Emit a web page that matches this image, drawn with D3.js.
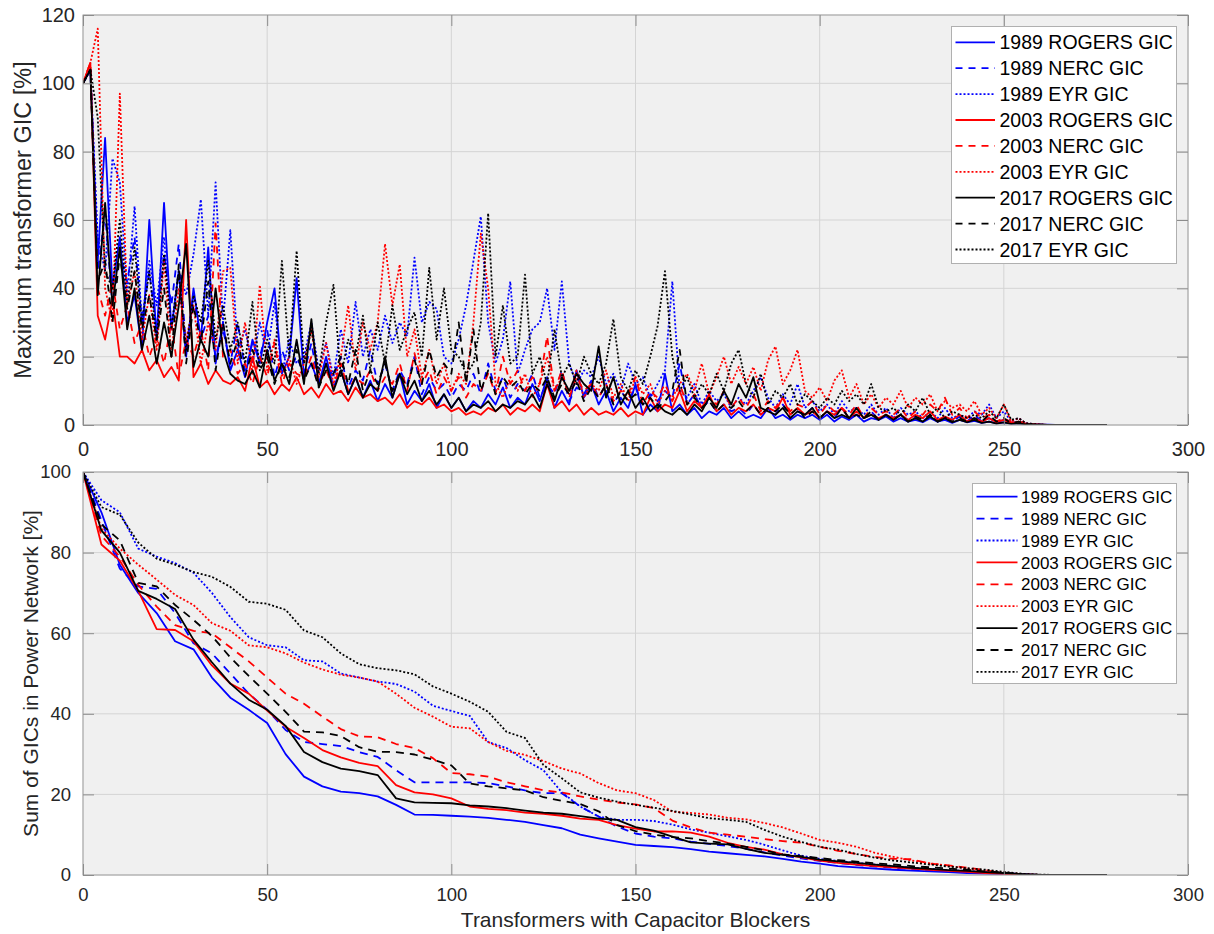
<!DOCTYPE html>
<html>
<head>
<meta charset="utf-8">
<script src="https://cdn.jsdelivr.net/npm/d3@7"></script>
<style>
  body { margin: 0; background: #ffffff; }
  svg { font-family: "Liberation Sans", Arial, sans-serif; }
</style>
</head>
<body>
<div id="container"></div>
<script>
let w = 1214;
let h = 934;

// ---- data ----
let seriesNames = ["1989 ROGERS GIC", "1989 NERC GIC", "1989 EYR GIC",
                   "2003 ROGERS GIC", "2003 NERC GIC", "2003 EYR GIC",
                   "2017 ROGERS GIC", "2017 NERC GIC", "2017 EYR GIC"];
let seriesColors = ["#0000ff", "#0000ff", "#0000ff",
                    "#ff0000", "#ff0000", "#ff0000",
                    "#000000", "#000000", "#000000"];
let seriesStyles = ["solid", "dashed", "dotted",
                    "solid", "dashed", "dotted",
                    "solid", "dashed", "dotted"];

// top panel: maximum transformer GIC [%], one value every 2 transformers (0..278)
let topX = d3.range(0, 279, 2);
let xTicks = [0, 50, 100, 150, 200, 250, 300];
let topYTicks = [0, 20, 40, 60, 80, 100, 120];
let sumYTicks = [0, 20, 40, 60, 80, 100];

let max1989Rogers = [
  100, 104, 48, 84, 40, 55, 30, 38, 22, 60,
  25, 65, 28, 45, 20, 40, 25, 52, 18, 30,
  16, 22, 14, 25, 18, 30, 40, 15, 20, 43,
  14, 18, 12, 20, 11, 16, 9, 14, 8, 13,
  7, 12, 8, 15, 6, 10, 7, 12, 5, 9,
  5, 8, 4, 7, 5, 9, 6, 11, 5, 8,
  6, 12, 7, 14, 5, 10, 6, 16, 8, 12,
  6, 10, 4, 8, 5, 12, 3, 6, 4, 15,
  4, 6, 3, 5, 2, 4, 3, 5, 2, 4,
  2, 3, 2, 5, 2, 3, 1.5, 3, 2, 3,
  1.5, 3, 1, 2.5, 1.5, 3, 1, 2, 1.5, 2.5,
  1, 2, 1, 1.5, 0.8, 2, 1, 1.5, 0.6, 1.5,
  0.8, 1.2, 0.6, 1, 0.5, 0.8, 0.4, 0.5, 0.3, 0.2,
  0.1, 0.1, 0, 0, 0, 0, 0, 0, 0, 0];
let max1989Nerc = [
  100, 104, 45, 62, 35, 50, 42, 55, 30, 45,
  28, 50, 35, 53, 22, 38, 25, 32, 20, 28,
  18, 30, 16, 24, 20, 28, 14, 22, 16, 20,
  15, 24, 12, 18, 14, 20, 11, 16, 13, 22,
  12, 18, 10, 16, 12, 20, 9, 14, 10, 12,
  8, 12, 10, 15, 9, 18, 10, 14, 8, 12,
  10, 15, 8, 12, 9, 16, 7, 11, 9, 13,
  8, 12, 6, 10, 7, 11, 6, 9, 7, 10,
  8, 18, 6, 9, 5, 7, 4, 6, 4, 5,
  3, 6, 3, 5, 3, 6, 2, 4, 3, 5,
  2, 4, 2, 5, 2, 3, 2, 4, 1.5, 3,
  1.5, 3, 1.5, 2.5, 1, 3, 1, 2, 1, 2.5,
  1, 3, 1, 2, 0.8, 1.5, 0.5, 1, 0.3, 0.2,
  0.1, 0, 0, 0, 0, 0, 0, 0, 0, 0];
let max1989Eyr = [
  100, 104, 55, 45, 78, 71, 38, 64, 30, 48,
  35, 55, 28, 45, 38, 50, 66, 32, 71, 30,
  57, 22, 28, 18, 30, 20, 36, 15, 25, 18,
  20, 30, 16, 24, 14, 28, 18, 36, 20, 28,
  22, 32, 24, 30, 26, 49, 30, 36, 34, 20,
  18, 25, 35, 48, 61, 30, 18, 25, 42, 15,
  22, 28, 30, 40, 22, 42, 18, 12, 16, 14,
  20, 12, 15, 10, 18, 12, 14, 8, 12, 16,
  42, 10, 8, 12, 6, 10, 7, 9, 5, 8,
  6, 10, 14, 8, 5, 9, 6, 12, 5, 7,
  4, 6, 3, 7, 4, 5, 3, 6, 3, 5,
  2, 5, 3, 4, 2, 4, 2, 5, 2, 3,
  2, 4, 3, 6, 2, 4, 1, 2, 0.5, 0.3,
  0.1, 0, 0, 0, 0, 0, 0, 0, 0, 0];
let max2003Rogers = [
  100, 106, 32, 25, 37, 20, 20, 18, 22, 16,
  19, 14, 17, 13, 60, 14, 18, 12, 16, 13,
  12, 14, 10, 20, 11, 13, 9, 12, 10, 14,
  9, 11, 8, 12, 9, 10, 7, 11, 8, 9,
  7, 8, 6, 9, 5, 7, 6, 8, 5, 6,
  4, 5, 3, 4, 3, 5, 4, 6, 3, 5,
  4, 6, 4, 12, 5, 7, 4, 6, 3, 5,
  3, 4, 3, 5, 2.5, 4, 3, 8, 4, 6,
  5, 10, 4, 7, 5, 9, 4, 6, 3, 5,
  4, 6, 3, 5, 4, 8, 3, 5, 3, 4,
  2, 4, 3, 5, 2, 4, 2, 3, 2, 3,
  2, 3, 1.5, 3, 2, 4, 1.5, 2.5, 1.5, 3,
  1, 2, 1, 2, 0.8, 1.5, 0.5, 1, 0.3, 0.2,
  0.1, 0, 0, 0, 0, 0, 0, 0, 0, 0];
let max2003Nerc = [
  100, 106, 40, 32, 42, 28, 35, 24, 30, 20,
  26, 18, 30, 14, 25, 20, 28, 16, 59, 20,
  22, 15, 18, 12, 20, 14, 24, 12, 18, 15,
  14, 20, 12, 16, 11, 18, 10, 14, 12, 16,
  10, 14, 12, 18, 10, 21, 12, 16, 9, 14,
  10, 14, 8, 12, 10, 15, 9, 20, 12, 16,
  10, 14, 12, 26, 10, 16, 8, 14, 10, 12,
  8, 12, 7, 10, 9, 14, 6, 10, 8, 12,
  7, 12, 6, 9, 5, 8, 6, 10, 5, 8,
  5, 9, 4, 7, 5, 8, 4, 6, 5, 7,
  3, 6, 4, 5, 3, 6, 2, 5, 3, 4,
  3, 5, 2, 4, 3, 6, 4, 8, 3, 5,
  2, 4, 2, 3, 1, 2, 0.8, 1, 0.4, 0.2,
  0.1, 0, 0, 0, 0, 0, 0, 0, 0, 0];
let max2003Eyr = [
  100, 106, 116, 40, 30, 97, 35, 45, 25, 38,
  22, 48, 20, 40, 25, 35, 18, 30, 22, 45,
  46, 18, 30, 15, 41, 16, 25, 14, 20, 12,
  18, 28, 14, 24, 12, 20, 35, 16, 30, 22,
  30, 53, 35, 47, 20, 28, 14, 22, 12, 18,
  10, 15, 12, 30, 56, 40, 12, 8, 14, 10,
  15, 8, 12, 20, 10, 14, 9, 16, 8, 12,
  10, 16, 8, 12, 7, 14, 9, 12, 6, 10,
  8, 12, 15, 10, 18, 9, 14, 20, 12, 17,
  12, 17, 10, 19, 23, 12, 16, 22, 10, 8,
  11, 7, 13, 16, 8, 12, 6, 9, 5, 8,
  6, 10, 5, 8, 6, 9, 4, 7, 5, 6,
  4, 7, 3, 5, 2, 6, 1, 2, 0.5, 0.3,
  0.1, 0, 0, 0, 0, 0, 0, 0, 0, 0];
let max2017Rogers = [
  100, 104, 38, 65, 35, 52, 28, 40, 22, 32,
  18, 30, 20, 35, 53, 17, 25, 20, 40, 22,
  15, 13, 12, 16, 11, 22, 13, 18, 12, 25,
  12, 31, 11, 18, 10, 16, 9, 14, 8, 12,
  10, 20, 8, 15, 9, 13, 7, 10, 6, 9,
  5, 8, 4, 6, 5, 7, 4, 6, 5, 7,
  6, 9, 5, 12, 7, 14, 10, 15, 12, 10,
  23, 8, 14, 6, 10, 5, 8, 4, 6, 4,
  3, 5, 3, 6, 4, 8, 5, 10, 6, 12,
  8, 14, 5, 4, 3, 5, 2, 4, 3, 5,
  2, 4, 2, 3, 2, 5, 2, 3, 1.5, 3,
  1.5, 3, 1, 2, 1, 2.5, 1, 2, 0.8, 1.5,
  0.8, 1.5, 0.6, 1, 0.4, 0.8, 0.3, 0.5, 0.2, 0.1,
  0.1, 0, 0, 0, 0, 0, 0, 0, 0, 0];
let max2017Nerc = [
  100, 104, 42, 48, 30, 50, 34, 45, 28, 38,
  25, 40, 20, 47, 18, 35, 24, 42, 16, 30,
  18, 25, 14, 22, 16, 20, 12, 18, 14, 22,
  13, 18, 11, 16, 15, 20, 12, 22, 10, 16,
  12, 18, 10, 15, 11, 19, 12, 22, 14, 18,
  15, 30, 12, 28, 10, 16, 9, 14, 11, 13,
  9, 12, 10, 14, 8, 12, 9, 13, 7, 11,
  8, 12, 6, 10, 7, 9, 6, 8, 5, 7,
  10, 22, 6, 8, 5, 7, 4, 6, 5, 7,
  4, 6, 3, 5, 4, 6, 3, 5, 2, 4,
  2, 4, 2, 5, 2, 3, 2, 4, 1.5, 3,
  1.5, 3, 1, 2.5, 1.5, 3, 1, 2, 1, 2,
  1, 2, 1, 3, 1, 2, 0.5, 1, 0.3, 0.2,
  0.1, 0, 0, 0, 0, 0, 0, 0, 0, 0];
let max2017Eyr = [
  100, 104, 90, 45, 40, 60, 35, 52, 30, 45,
  25, 50, 28, 45, 22, 38, 30, 48, 25, 35,
  22, 30, 18, 36, 16, 25, 18, 48, 20, 51,
  18, 28, 15, 30, 41, 14, 25, 20, 32, 16,
  30, 18, 35, 22, 28, 33, 20, 46, 25, 40,
  22, 20, 15, 18, 30, 62, 20, 35, 18, 20,
  44, 15, 20, 12, 28, 14, 18, 12, 20, 15,
  12, 18, 31, 14, 10, 16, 12, 20, 29, 45,
  20, 10, 14, 8, 12, 9, 15, 10, 18, 22,
  12, 8, 15, 6, 10, 8, 12, 6, 9, 7,
  5, 8, 6, 10, 7, 9, 6, 12, 5, 4,
  5, 3, 6, 4, 8, 3, 5, 2, 4, 3,
  2, 3, 2, 4, 2, 6, 1.5, 2, 0.5, 0.3,
  0.1, 0, 0, 0, 0, 0, 0, 0, 0, 0];

// bottom panel: sum of GICs in power network [%], every 5 transformers (0..275) plus 278
let sumX = d3.range(0, 276, 5).concat([278]);

let sum1989Rogers = [100, 90, 77, 70, 65, 58, 56, 49, 44, 41, 37.7, 30, 24.4, 22, 20.7, 20.3, 19.5, 17.4, 15, 14.9,
  14.7, 14.5, 14.2, 13.7, 13.2, 12.4, 11.6, 10, 9.1, 8.3, 7.5, 7.2, 6.9, 6.4, 5.8, 5.4, 5.0, 4.6, 4.0, 3.3,
  2.8, 2.2, 1.9, 1.6, 1.3, 1.1, 0.9, 0.7, 0.5, 0.35, 0.25, 0.1, 0, 0, 0, 0, 0];
let sum1989Nerc = [100, 88, 76, 71.6, 71, 65, 57.5, 55, 50, 45, 41, 36, 33, 32.5, 32, 30.5, 29.3, 26, 23, 23,
  23, 23, 22.8, 22, 21, 20.3, 20.3, 17, 14.5, 12, 10.3, 9.5, 9.1, 8.3, 7.7, 7.2, 6.5, 5.6, 4.8, 4.1,
  3.5, 3, 2.5, 2.1, 1.8, 1.5, 1.2, 1, 0.8, 0.6, 0.4, 0.2, 0, 0, 0, 0, 0];
let sum1989Eyr = [100, 93, 90, 81, 79, 77.4, 75, 70, 64, 59, 57, 56.5, 53.3, 53, 50, 49, 48, 47.4, 45.5, 42,
  40.7, 39.5, 33, 31.5, 28.5, 26, 20.5, 17, 14.5, 13.7, 13.7, 13.4, 12.5, 11.3, 10.5, 9.6, 8.7, 7.5, 6.1, 4.8,
  4, 3.5, 3, 2.6, 2.2, 1.8, 1.5, 1.2, 1, 0.7, 0.5, 0.2, 0, 0, 0, 0, 0];
let sum2003Rogers = [100, 82, 78, 70.5, 61, 60.8, 58, 52, 47.5, 45, 40.8, 36.8, 34, 31, 29.2, 27.8, 27, 22.3, 20.5, 20,
  19, 17, 16.4, 16.1, 15.5, 15.2, 14.7, 14, 13.7, 12.4, 11.5, 10.8, 10.8, 10.5, 9.5, 8, 7, 6.3, 5.1, 4.4,
  3.6, 3, 2.6, 2.2, 1.9, 1.6, 1.3, 1, 0.8, 0.5, 0.3, 0.1, 0, 0, 0, 0, 0];
let sum2003Nerc = [100, 84.2, 79, 72, 66.6, 62, 60.6, 60, 56.5, 53, 49, 45, 42.5, 39.3, 36.2, 34.4, 34.2, 32.5, 31.5, 29,
  25.3, 25, 24.4, 23, 22, 21, 20.5, 19.5, 18.7, 18, 17.5, 16.6, 13.5, 11.8, 10.5, 10, 9.5, 8.9, 8.4, 8,
  7, 6, 5.2, 4.5, 4, 3.9, 2.8, 2.4, 1.8, 1.2, 0.4, 0.1, 0, 0, 0, 0, 0];
let sum2003Eyr = [100, 86, 81, 77, 73.3, 69.5, 67, 62.5, 60.6, 57, 56.5, 55, 52.7, 51, 49.7, 49, 48, 45, 41.5, 39.3,
  36.8, 36.4, 33, 30.8, 29.8, 28.3, 26.4, 25.2, 22.8, 21, 20.3, 18.6, 15.7, 15.4, 15, 14.2, 13.8, 12.9, 11.8, 10.3,
  8.7, 8, 7, 5.5, 4.5, 3.6, 2.9, 2.3, 1.6, 1, 0.6, 0.2, 0, 0, 0, 0, 0];
let sum2017Rogers = [100, 85.5, 80, 70.5, 68.5, 66, 58.4, 52.8, 47.5, 43.5, 41, 37, 30.5, 28, 26.4, 25.8, 24.8, 19, 18, 17.9,
  17.8, 17.3, 17, 16.6, 16, 15.5, 15.2, 14.6, 14, 13.7, 11.9, 11, 9.5, 8.1, 7.8, 7.6, 6.5, 5.5, 5, 4.5,
  3.8, 3.4, 3, 2.6, 2.2, 1.8, 1.5, 1.2, 1, 0.7, 0.5, 0.2, 0.05, 0, 0, 0, 0];
let sum2017Nerc = [100, 87, 83, 72.5, 71.6, 67, 63.3, 59.3, 54, 49.4, 45, 40.5, 35.6, 35.4, 34.5, 31.7, 30.6, 30.5, 29.9, 28.6,
  27.2, 22.7, 22, 21.5, 21, 19.3, 18.4, 17.6, 15.8, 12.4, 10.9, 10, 9.4, 9.1, 8.4, 7.8, 7, 6.1, 5.1, 4.7,
  4.2, 3.7, 3.3, 2.9, 2.6, 2.2, 1.9, 1.6, 1.3, 0.9, 0.6, 0.2, 0, 0, 0, 0, 0];
let sum2017Eyr = [100, 91.3, 89.4, 82.5, 78.5, 77, 75.2, 74, 71.5, 67.8, 67.3, 65.8, 60.7, 59, 55, 52.3, 51.3, 50.8, 49.8, 46.8,
  45, 43, 40.5, 35.5, 34, 27.3, 24, 20.5, 19.2, 18.2, 17.4, 16.7, 15.9, 15, 14.1, 13.7, 13.2, 11.2, 9.5, 8.2,
  7, 6.3, 5.2, 4.3, 3.6, 3.1, 2.6, 2.1, 1.7, 1.3, 0.8, 0.3, 0.1, 0, 0, 0, 0];

let maxSeries = [max1989Rogers, max1989Nerc, max1989Eyr, max2003Rogers, max2003Nerc, max2003Eyr,
                 max2017Rogers, max2017Nerc, max2017Eyr];
let sumSeries = [sum1989Rogers, sum1989Nerc, sum1989Eyr, sum2003Rogers, sum2003Nerc, sum2003Eyr,
                 sum2017Rogers, sum2017Nerc, sum2017Eyr];

// put the svg onto the page:
let viz = d3.select("#container")
  .append("svg")
    .attr("width", w)
    .attr("height", h)
;

let gridColor = "#d4d4d4";
let boxColor = "#a3a3a3";
let textColor = "#262626";

function dashFor(style, big){
  if (style == "dashed") return big ? "7,6" : "8,6";
  if (style == "dotted") return "2,2";
  return null;
}

function drawPanel(cfg){
  let g = viz.append("g").classed(cfg.name, true);

  let xScale = d3.scaleLinear().domain([0, 300]).range([cfg.left, cfg.right]);
  let yScale = d3.scaleLinear().domain([0, cfg.yMax]).range([cfg.bottom, cfg.top]);

  g.append("rect")
    .attr("x", cfg.left)
    .attr("y", cfg.top)
    .attr("width", cfg.right - cfg.left)
    .attr("height", cfg.bottom - cfg.top)
    .attr("fill", "#f0f0f0")
  ;

  // grid
  g.selectAll(".vgrid").data(xTicks).enter()
    .append("line")
      .attr("x1", d => xScale(d)).attr("x2", d => xScale(d))
      .attr("y1", cfg.top).attr("y2", cfg.bottom)
      .attr("stroke", gridColor).attr("stroke-width", 1)
  ;
  g.selectAll(".hgrid").data(cfg.yTicks).enter()
    .append("line")
      .attr("x1", cfg.left).attr("x2", cfg.right)
      .attr("y1", d => yScale(d)).attr("y2", d => yScale(d))
      .attr("stroke", gridColor).attr("stroke-width", 1)
  ;

  // clip so lines stay inside the axes
  viz.append("clipPath").attr("id", "clip-" + cfg.name)
    .append("rect")
      .attr("x", cfg.left).attr("y", cfg.top)
      .attr("width", cfg.right - cfg.left).attr("height", cfg.bottom - cfg.top);

  let lineGroup = g.append("g").attr("clip-path", "url(#clip-" + cfg.name + ")");
  cfg.series.forEach(function(values, k){
    let line = d3.line()
      .x(function(d, i){ return xScale(cfg.xs[i]); })
      .y(function(d){ return yScale(d); });
    lineGroup.append("path")
      .datum(values)
      .attr("d", line)
      .attr("fill", "none")
      .attr("stroke", seriesColors[k])
      .attr("stroke-width", cfg.lineWidth)
      .attr("stroke-linejoin", "round")
      .attr("stroke-dasharray", dashFor(seriesStyles[k], cfg.big))
    ;
  });

  // box
  g.append("rect")
    .attr("x", cfg.left)
    .attr("y", cfg.top)
    .attr("width", cfg.right - cfg.left)
    .attr("height", cfg.bottom - cfg.top)
    .attr("fill", "none")
    .attr("stroke", boxColor)
    .attr("stroke-width", 1)
  ;

  // axes with inward ticks
  let xAxis = d3.axisBottom(xScale).tickValues(xTicks).tickSizeInner(-11).tickSizeOuter(0)
    .tickPadding(cfg.xPad);
  let xAxisGroup = g.append("g").attr("transform", "translate(0," + cfg.bottom + ")").call(xAxis);
  let xTopGroup = g.append("g").attr("transform", "translate(0," + cfg.top + ")")
    .call(d3.axisTop(xScale).tickValues(xTicks).tickSizeInner(-11).tickSizeOuter(0).tickFormat(""));
  let yAxis = d3.axisLeft(yScale).tickValues(cfg.yTicks).tickSizeInner(-11).tickSizeOuter(0)
    .tickPadding(cfg.yPad);
  let yAxisGroup = g.append("g").attr("transform", "translate(" + cfg.left + ",0)").call(yAxis);
  let yRightGroup = g.append("g").attr("transform", "translate(" + cfg.right + ",0)")
    .call(d3.axisRight(yScale).tickValues(cfg.yTicks).tickSizeInner(-11).tickSizeOuter(0).tickFormat(""));

  [xAxisGroup, xTopGroup, yAxisGroup, yRightGroup].forEach(function(ag){
    ag.select(".domain").remove();
    ag.selectAll("line").attr("stroke", "#8c8c8c");
    ag.selectAll("text")
      .attr("fill", textColor)
      .attr("font-family", "Liberation Sans, Arial, sans-serif")
      .attr("font-size", cfg.tickFont);
  });

  // y label
  g.append("text")
    .attr("transform", "translate(" + cfg.yLabelX + "," + ((cfg.top + cfg.bottom) / 2) + ") rotate(-90)")
    .attr("text-anchor", "middle")
    .attr("dy", "0.35em")
    .attr("font-size", cfg.yLabelFont)
    .attr("fill", textColor)
    .text(cfg.yLabel)
  ;

  // legend
  let L = cfg.legend;
  let legend = g.append("g").classed("legend", true);
  legend.append("rect")
    .attr("x", L.x0).attr("y", L.y0)
    .attr("width", L.x1 - L.x0).attr("height", L.y1 - L.y0)
    .attr("fill", "#ffffff")
    .attr("stroke", "#b0b0b0")
    .attr("stroke-width", 1)
  ;
  let rows = legend.selectAll(".row").data(seriesNames).enter()
    .append("g")
      .attr("transform", function(d, i){ return "translate(0," + (L.rowY0 + i * L.rowStep) + ")"; })
  ;
  rows.append("line")
    .attr("x1", L.lineX0).attr("x2", L.lineX1)
    .attr("y1", 0).attr("y2", 0)
    .attr("stroke", function(d, i){ return seriesColors[i]; })
    .attr("stroke-width", cfg.lineWidth)
    .attr("stroke-dasharray", function(d, i){ return dashFor(seriesStyles[i], cfg.big); })
  ;
  rows.append("text")
    .attr("x", L.textX)
    .attr("y", 0)
    .attr("dy", "0.36em")
    .attr("font-size", L.font)
    .attr("fill", "#000000")
    .text(d => d)
  ;

  return {x: xScale, y: yScale};
}

drawPanel({
  name: "topPanel",
  left: 83, right: 1188, top: 15, bottom: 425,
  yMax: 120, yTicks: topYTicks,
  xs: topX, series: maxSeries,
  lineWidth: 1.8, big: true,
  tickFont: 20, xPad: 17, yPad: 8,
  yLabel: "Maximum transformer GIC [%]", yLabelX: 23, yLabelFont: 23.5,
  legend: {x0: 951.5, y0: 26.5, x1: 1176.5, y1: 263.5, rowY0: 42.3, rowStep: 25.9,
           lineX0: 955.5, lineX1: 995, textX: 999.5, font: 19.5}
});

drawPanel({
  name: "bottomPanel",
  left: 83, right: 1188, top: 472, bottom: 875,
  yMax: 100, yTicks: sumYTicks,
  xs: sumX, series: sumSeries,
  lineWidth: 1.8, big: false,
  tickFont: 18.5, xPad: 13, yPad: 12,
  yLabel: "Sum of GICs in Power Network [%]", yLabelX: 31, yLabelFont: 21,
  legend: {x0: 972.5, y0: 483.5, x1: 1176.5, y1: 683.5, rowY0: 496.7, rowStep: 21.9,
           lineX0: 976.5, lineX1: 1017.5, textX: 1021, font: 17}
});

// x label under the bottom panel
viz.append("text")
  .attr("x", (83 + 1188) / 2)
  .attr("y", 927)
  .attr("text-anchor", "middle")
  .attr("font-size", 21)
  .attr("fill", textColor)
  .text("Transformers with Capacitor Blockers")
;
</script>
</body>
</html>
